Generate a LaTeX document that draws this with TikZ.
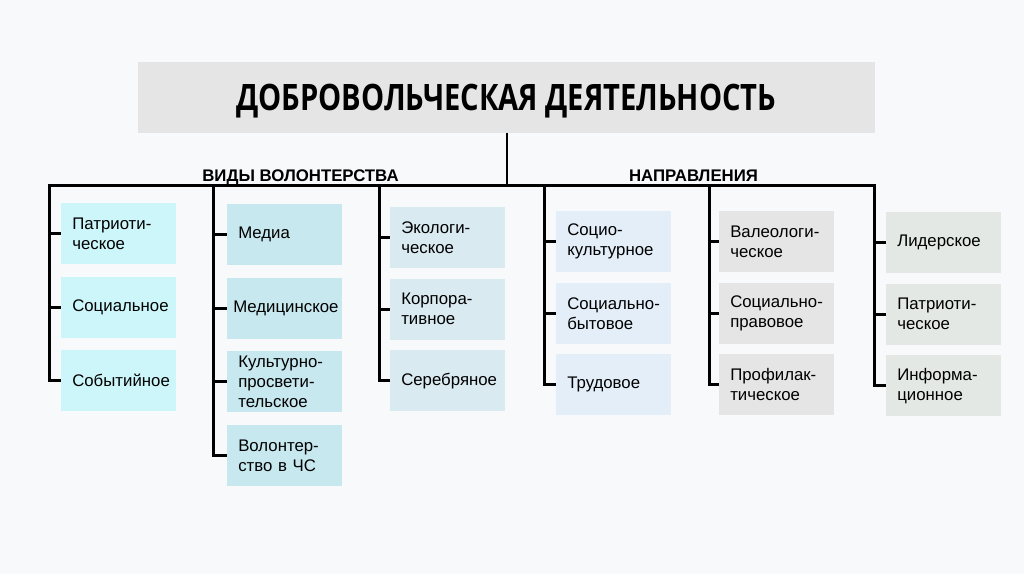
\documentclass[tikz,border=0pt]{standalone}
\usepackage{fontspec}
\setmainfont{Liberation Sans}
\newfontfamily\titlefont[FakeStretch=0.8]{Open Sans}
\usepackage{xcolor}
\usetikzlibrary{positioning}
\definecolor{bgwhite}{RGB}{248,249,251}
\definecolor{titlegray}{RGB}{229,229,229}
\definecolor{cyanA}{RGB}{204,246,249}
\definecolor{cyanB}{RGB}{198,232,238}
\definecolor{blueC}{RGB}{217,234,240}
\definecolor{blueD}{RGB}{227,238,249}
\definecolor{grayE}{RGB}{229,229,229}
\definecolor{grayF}{RGB}{227,232,229}

\begin{document}
\begin{tikzpicture}[x=0.75pt, y=-0.75pt,
  box/.style={rectangle, minimum width=86.25pt, minimum height=45.75pt,
              inner xsep=8.25pt, inner ysep=1pt, text width=69.75pt, align=left,
              font=\fontsize{12.6}{15}\selectfont},
  head/.style={rectangle, fill=titlegray, minimum width=552.75pt,
               minimum height=53.25pt, inner sep=0pt,
               text height=19.5pt, text depth=0pt,
               font=\titlefont\bfseries\fontsize{27.3}{30}\selectfont},
  hdr/.style={anchor=base, font=\bfseries\fontsize{12.6}{15}\selectfont},
  wire/.style={line width=2.25pt},
  stem/.style={line width=1.5pt}
]
  \fill[bgwhite] (0,0) rectangle (1024,574);

  \node[head] (top) at (506.5,97.5) {ДОБРОВОЛЬЧЕСКАЯ ДЕЯТЕЛЬНОСТЬ};
  \node[hdr] (vidy) at (300.5,181) {ВИДЫ ВОЛОНТЕРСТВА};
  \node[hdr] (napr) at (693.5,181) {НАПРАВЛЕНИЯ};

  % trunk tops on the bar
  \coordinate (c1) at (49,186);
  \coordinate (c2) at (213,186);
  \coordinate (c3) at (379,186);
  \coordinate (c4) at (544,186);
  \coordinate (c5) at (709,186);
  \coordinate (c6) at (874,186);

  % виды волонтерства
  \node[box, fill=cyanA, anchor=north west] (pat) at (61,203) {Патриоти-\\ческое};
  \node[box, fill=cyanA, below=9pt of pat] (soc) {Социальное};
  \node[box, fill=cyanA, below=9pt of soc] (sob) {Событийное};

  \node[box, fill=cyanB, anchor=north west] (media) at (227,204) {Медиа};
  \node[box, fill=cyanB, below=9pt of media, inner xsep=4.5pt,
        text width=77.25pt] (medic) {Медицинское};
  \node[box, fill=cyanB, below=9pt of medic] (kult) {Культурно-\\просвети-\\тельское};
  \node[box, fill=cyanB, below=9pt of kult] (chs) {Волонтер-\\ство в ЧС};

  \node[box, fill=blueC, anchor=north west] (eko) at (390,207) {Экологи-\\ческое};
  \node[box, fill=blueC, below=7.5pt of eko] (korp) {Корпора-\\тивное};
  \node[box, fill=blueC, below=7.5pt of korp] (serebr) {Серебряное};

  % направления
  \node[box, fill=blueD, anchor=north west] (sockult) at (556,211) {Социо-\\культурное};
  \node[box, fill=blueD, below=7.5pt of sockult] (socbyt) {Социально-\\бытовое};
  \node[box, fill=blueD, below=7.5pt of socbyt] (trud) {Трудовое};

  \node[box, fill=grayE, anchor=north west] (valeo) at (719,211) {Валеологи-\\ческое};
  \node[box, fill=grayE, below=7.5pt of valeo] (socprav) {Социально-\\правовое};
  \node[box, fill=grayE, below=7.5pt of socprav] (profil) {Профилак-\\тическое};

  \node[box, fill=grayF, anchor=north west] (lider) at (886,212) {Лидерское};
  \node[box, fill=grayF, below=7.5pt of lider] (patr) {Патриоти-\\ческое};
  \node[box, fill=grayF, below=7.5pt of patr] (inform) {Информа-\\ционное};

  \draw[stem] (top.south) -- (top.south |- c1);
  \draw[wire] (sob.west) -| (c1) -- (c6) |- (inform.west);
  \draw[wire] (c2) |- (chs.west);
  \draw[wire] (c3) |- (serebr.west);
  \draw[wire] (c4) |- (trud.west);
  \draw[wire] (c5) |- (profil.west);

  \foreach \n/\c in {pat/c1, soc/c1, media/c2, medic/c2, kult/c2,
                     eko/c3, korp/c3, sockult/c4, socbyt/c4,
                     valeo/c5, socprav/c5, lider/c6, patr/c6}
    \draw[wire] (\n.west -| \c) -- (\n.west);
\end{tikzpicture}
\end{document}
